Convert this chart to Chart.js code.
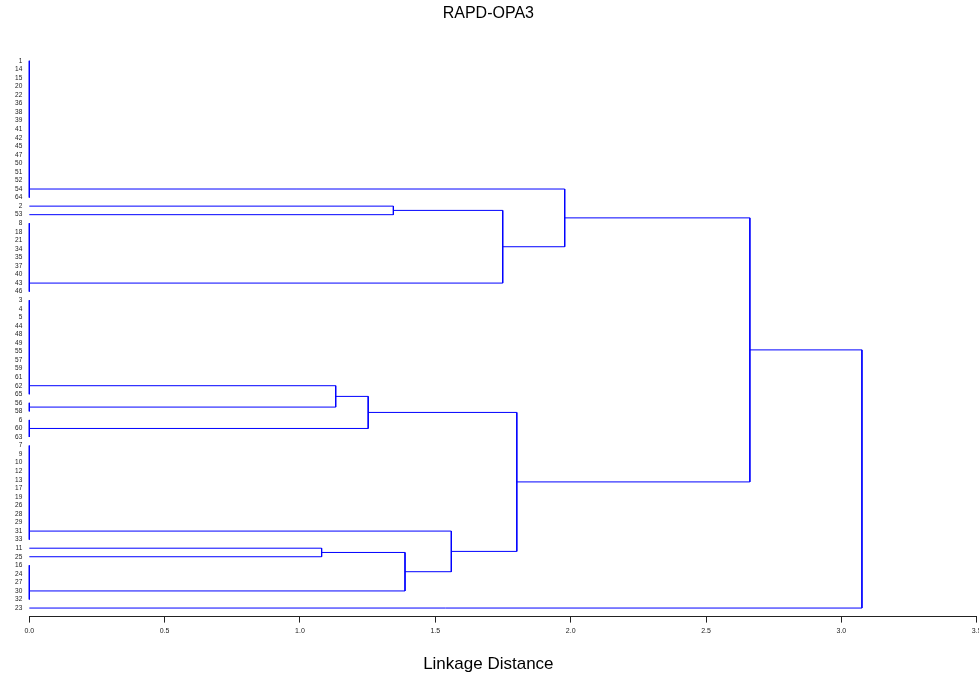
<!DOCTYPE html>
<html><head><meta charset="utf-8">
<script src="https://cdn.jsdelivr.net/npm/chart.js@4.4.0/dist/chart.umd.min.js"></script>
<style>html,body{margin:0;padding:0;background:#fff;}#wrap{width:979px;height:679px;}</style>
</head><body><div id="wrap"><canvas id="c" width="979" height="679"></canvas></div>
<script>
const chartTitle = 'RAPD-OPA3';
const axisTitle = 'Linkage Distance';
const leafLabels = ['1','14','15','20','22','36','38','39','41','42','45','47','50','51','52','54','64',
  '2','53','8','18','21','34','35','37','40','43','46',
  '3','4','5','44','48','49','55','57','59','61','62','65','56','58','6','60','63',
  '7','9','10','12','13','17','19','26','28','29','31','33','11','25','16','24','27','30','32','23'];
const xTicks = [0, 0.5, 1.0, 1.5, 2.0, 2.5, 3.0, 3.5];

// groups joined at zero linkage distance
const tieA = ['1','14','15','20','22','36','38','39','41','42','45','47','50','51','52','54','64'];
const tieC = ['8','18','21','34','35','37','40','43','46'];
const tieD = ['3','4','5','44','48','49','55','57','59','61','62','65'];
const tieE = ['56','58'];
const tieF = ['6','60','63'];
const tieG = ['7','9','10','12','13','17','19','26','28','29','31','33'];
const tieI = ['16','24','27','30','32'];
const tieNames = ['A','C','D','E','F','G','I'];
const tieMembers = [tieA, tieC, tieD, tieE, tieF, tieG, tieI];

// merges
const mergeNames  = ['B','BC','ABC','DE','DEF','H','HI','GHI','LOW','MAIN','ROOT'];
const mergeLeft   = ['2','B','A','D','DE','11','H','G','DEF','ABC','MAIN'];
const mergeRight  = ['53','C','BC','E','F','25','I','HI','GHI','LOW','23'];
const mergeHeight = [1.345, 1.749, 1.978, 1.132, 1.252, 1.080, 1.388, 1.559, 1.801, 2.662, 3.076];

const idx = l => leafLabels.indexOf(l);
function nodeOf(name) {
  const t = tieNames.indexOf(name);
  if (t >= 0) {
    const m = tieMembers[t];
    const f = idx(m[0]), l = idx(m[m.length - 1]);
    return {h: 0, y: m.length > 2 ? l - 1 : (f + l) / 2};
  }
  const k = mergeNames.indexOf(name);
  if (k >= 0) {
    const a = nodeOf(mergeLeft[k]), b = nodeOf(mergeRight[k]);
    return {h: mergeHeight[k], y: (a.y + b.y) / 2};
  }
  return {h: 0, y: idx(name)};
}

const lineStyle = {borderColor: 'rgb(0,0,255)', borderWidth: 1, pointRadius: 0, pointHoverRadius: 0, showLine: true, fill: false, tension: 0, clip: false};
const datasets = [];
tieMembers.forEach(m => {
  datasets.push(Object.assign({data: [{x: 0, y: idx(m[0])}, {x: 0, y: idx(m[m.length - 1])}]}, lineStyle));
});
mergeNames.forEach((n, k) => {
  const a = nodeOf(mergeLeft[k]), b = nodeOf(mergeRight[k]), H = mergeHeight[k];
  datasets.push(Object.assign({data: [{x: a.h, y: a.y}, {x: H, y: a.y}, {x: H, y: b.y}, {x: b.h, y: b.y}]}, lineStyle));
});

Chart.defaults.font.family = "'Liberation Sans', Arial, sans-serif";
new Chart(document.getElementById('c'), {
  type: 'scatter',
  data: {datasets},
  options: {
    responsive: false, animation: false, events: [],
    layout: {padding: {left: 0, right: 2.3, top: 0, bottom: 0}},
    plugins: {
      legend: {display: false}, tooltip: {enabled: false},
      title: {display: true, text: chartTitle, color: '#000', font: {size: 16, weight: 'normal'}, padding: {top: 4, bottom: 29}},
      subtitle: {display: true, text: axisTitle, position: 'bottom', color: '#000', font: {size: 17, weight: 'normal'}, padding: {top: 20, bottom: 4}}
    },
    scales: {
      x: {
        type: 'linear', min: 0, max: 3.5,
        afterBuildTicks: s => { s.ticks = xTicks.map(v => ({value: v})); },
        ticks: {callback: v => Number(v).toFixed(1), font: {size: 7}, color: '#222', padding: 4, maxRotation: 0, autoSkip: false},
        grid: {drawOnChartArea: false, drawTicks: true, tickLength: 6, color: '#222'},
        border: {display: true, color: '#222'},
        afterFit: s => { s.paddingLeft = 0; s.paddingRight = 0; s.height = 18; }
      },
      y: {
        type: 'linear', reverse: true, min: -1, max: 65,
        afterBuildTicks: s => { s.ticks = leafLabels.map((l, i) => ({value: i})); },
        ticks: {callback: v => leafLabels[v], autoSkip: false, font: {size: 6.5}, color: '#222', padding: 7},
        grid: {display: false, drawTicks: false},
        border: {display: false},
        afterFit: s => { s.width = 29.3; s.paddingTop = 0; s.paddingBottom = 0; }
      }
    }
  }
});
</script></body></html>
